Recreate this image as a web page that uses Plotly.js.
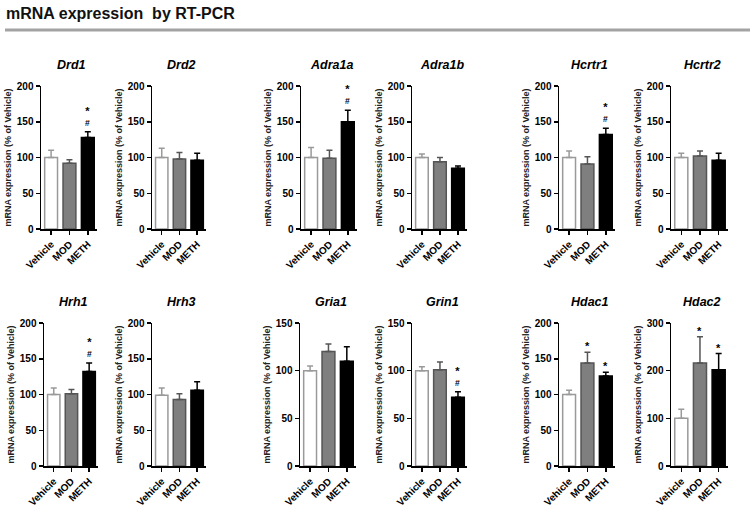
<!DOCTYPE html>
<html><head><meta charset="utf-8">
<script src="https://cdn.plot.ly/plotly-3.0.1.min.js"></script>
<style>html,body{margin:0;padding:0;background:#fff;}#chart{width:750px;height:507px;}</style>
</head><body><div id="chart"></div>
<script>
const genes = ['Drd1','Drd2','Adra1a','Adra1b','Hcrtr1','Hcrtr2','Hrh1','Hrh3','Gria1','Grin1','Hdac1','Hdac2'];
const groups = ['Vehicle','MOD','METH'];
const vehicle    = [100,100,100,100,100,100,100, 99,100,100,100,100];
const vehicleErr = [ 10, 13, 14,  5,  9,  6,  9, 10,  5,  4,  6, 19];
const mod        = [ 92, 98, 99, 94, 91,102,101, 93,120,101,144,216];
const modErr     = [  5,  9, 11,  6, 10,  7,  6,  8,  8,  8, 15, 55];
const meth       = [128, 96,150, 85,132, 96,132,106,110, 72,126,202];
const methErr    = [  8, 10, 16,  3,  9, 10, 12, 12, 15,  6,  5, 34];
const yMax       = [200,200,200,200,200,200,200,200,150,150,200,300];
const yStep      = [ 50, 50, 50, 50, 50, 50, 50, 50, 50, 50, 50,100];
const modSig     = ['','','','','','','','','','','*','*'];
const methSig    = ['*#','','*#','','*#','','*#','','','*#','*','*'];
const headerText = 'mRNA expression\u00a0 by RT-PCR';
const yTitle = 'mRNA expression (% of Vehicle)';

const W = 750, H = 507;
const colsTop = [[41,97],[152,206],[301,357],[412,467],[559,615],[671,728]];
const colsBot = [[44,98],[152,206],[300,356],[412,467],[559,615],[671,728]];
const rowTop = [86,229], rowBot = [323,466];

const font = 'Arial, "Liberation Sans", sans-serif';
const fills = ['#ffffff','#7f7f7f','#000000'];
const lines = ['#9a9a9a','#555555','#000000'];

const data = [], annotations = [], layout = {
  width: W, height: H, margin:{l:0,r:0,t:0,b:0}, showlegend:false,
  paper_bgcolor:'#fff', plot_bgcolor:'#fff', bargap:0.3,
  font:{family:font, color:'#000'},
  shapes:[{type:'line', xref:'paper', yref:'paper', x0:5/W, x1:1, y0:1-30/H, y1:1-30/H, line:{color:'#a3a3a3', width:3}}],
  annotations: annotations
};
annotations.push({xref:'paper', yref:'paper', x:4/W, y:1-3/H, xanchor:'left', yanchor:'top', showarrow:false,
  text:'<b>'+headerText+'</b>', font:{size:16, family:font, color:'#111'}});

const series = [vehicle, mod, meth];
const errs = [vehicleErr, modErr, methErr];
genes.forEach((g, i) => {
  const k = i+1;
  const top = i < 6;
  const col = top ? colsTop[i] : colsBot[i-6];
  const row = top ? rowTop : rowBot;
  const xa = 'x'+(k===1?'':k), ya = 'y'+(k===1?'':k);
  const xd = [col[0]/W, col[1]/W], yd = [1-row[1]/H, 1-row[0]/H];
  groups.forEach((grp, j) => {
    data.push({type:'bar', x:[grp], y:[series[j][i]], xaxis:xa, yaxis:ya,
      marker:{color:fills[j], line:{color:lines[j], width:1.5}},
      error_y:{type:'data', symmetric:false, array:[errs[j][i]], arrayminus:[0], color:lines[j], thickness:1.5, width:3},
      hoverinfo:'skip'});
  });
  layout['xaxis'+(k===1?'':k)] = {domain:xd, anchor:ya, type:'category', categoryorder:'array', categoryarray:groups,
    range:[-0.55,2.5], showline:true, linecolor:'#000', linewidth:1.5, ticks:'outside', ticklen:4, tickwidth:1.5,
    tickcolor:'#000', tickangle:-45, tickfont:{size:10, family:font, weight:'bold', color:'#000'},
    showgrid:false, zeroline:false, fixedrange:true};
  layout['yaxis'+(k===1?'':k)] = {domain:yd, anchor:xa, range:[0,yMax[i]], dtick:yStep[i], tick0:0,
    showline:true, linecolor:'#000', linewidth:1.5, ticks:'outside', ticklen:4, tickwidth:1.5, tickcolor:'#000',
    tickfont:{size:10, family:font, weight:'bold', color:'#000'}, showgrid:false, zeroline:false, fixedrange:true,
    title:{text:'<b>'+yTitle+'</b>', font:{size:9, family:font, color:'#222'}, standoff:3}};
  annotations.push({xref:xa+' domain', yref:ya+' domain', x:0.55, y:1, yshift:12, xanchor:'center', yanchor:'bottom',
    showarrow:false, text:'<b><i>'+g+'</i></b>', font:{size:12.5, family:font, color:'#000'}});
  const marks = [[1, modSig[i]], [2, methSig[i]]];
  marks.forEach(([j, s]) => {
    if (!s) return;
    const yv = series[j][i] + errs[j][i];
    const star = '<span style="font-size:11px"><b>*</b></span>';
    const txt = s.indexOf('#') >= 0 ? star + '<br><b>#</b>' : star;
    annotations.push({xref:xa, yref:ya, x:groups[j], y:yv, yshift:s.indexOf('#') >= 0 ? 2 : -2, yanchor:'bottom',
      showarrow:false, text:txt, font:{size:8.5, family:font, color:'#000'}});
  });
});
Plotly.newPlot('chart', data, layout, {staticPlot:true});
</script></body></html>
